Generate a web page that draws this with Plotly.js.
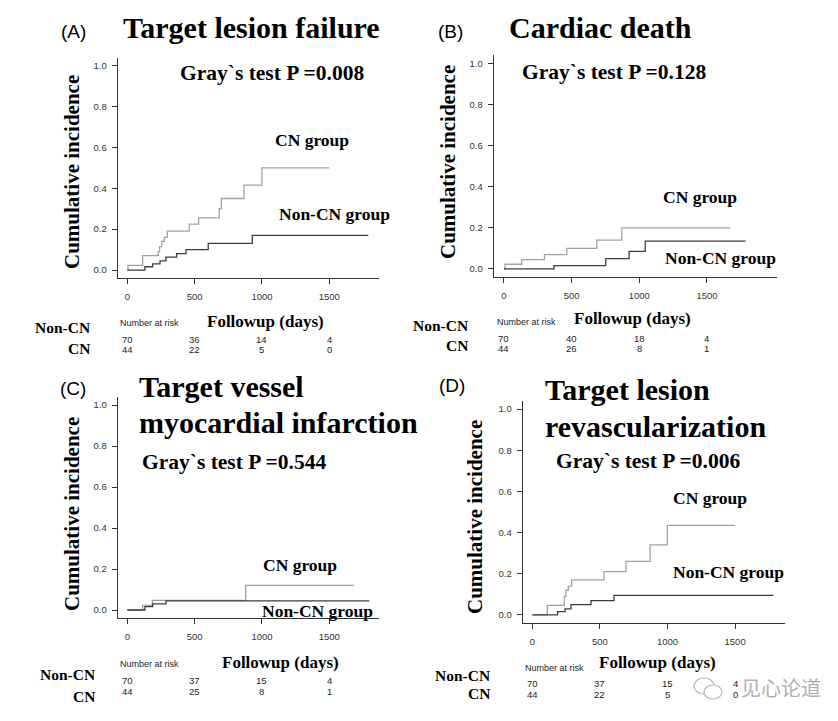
<!DOCTYPE html>
<html>
<head>
<meta charset="utf-8">
<script src="https://cdn.plot.ly/plotly-3.0.1.min.js"></script>
<style>html,body{margin:0;padding:0;background:#fff;}#chart{width:838px;height:721px;}</style>
</head>
<body>
<div id="chart"></div>
<script>
// ---------------- DATA ----------------
const panelLetters = ["(A)", "(B)", "(C)", "(D)"];
const panelTitles = [["Target lesion failure"], ["Cardiac death"], ["Target vessel", "myocardial infarction"], ["Target lesion", "revascularization"]];
const pValues = ["0.008", "0.128", "0.544", "0.006"];
const groupNames = ["Non-CN", "CN"];
const riskTimes = [0, 500, 1000, 1500];

// Panel A: Target lesion failure
const aCnDays = [0, 5, 114, 230, 240, 255, 275, 297, 460, 530, 683, 698, 866, 1000, 1500];
const aCnInc  = [0, 0.023, 0.07, 0.09, 0.115, 0.14, 0.16, 0.19, 0.225, 0.255, 0.30, 0.35, 0.415, 0.50, 0.50];
const aNonDays = [0, 131, 188, 243, 287, 366, 436, 601, 928, 1790];
const aNonInc  = [0, 0.016, 0.03, 0.045, 0.063, 0.08, 0.10, 0.13, 0.17, 0.17];
const aRiskNon = [70, 36, 14, 4];
const aRiskCn  = [44, 22, 5, 0];

// Panel B: Cardiac death
const bCnDays = [0, 8, 131, 299, 464, 686, 871, 1673];
const bCnInc  = [0, 0.023, 0.045, 0.07, 0.10, 0.14, 0.20, 0.20];
const bNonDays = [0, 370, 752, 925, 1044, 1786];
const bNonInc  = [0, 0.016, 0.05, 0.086, 0.135, 0.135];
const bRiskNon = [70, 40, 18, 4];
const bRiskCn  = [44, 26, 8, 1];

// Panel C: Target vessel myocardial infarction
const cCnDays = [0, 114, 186, 879, 1683];
const cCnInc  = [0, 0.023, 0.047, 0.12, 0.12];
const cNonDays = [0, 131, 188, 287, 1797];
const cNonInc  = [0, 0.016, 0.03, 0.045, 0.045];
const cRiskNon = [70, 37, 15, 4];
const cRiskCn  = [44, 25, 8, 1];

// Panel D: Target lesion revascularization
const dCnDays = [0, 111, 237, 249, 266, 291, 530, 693, 871, 999, 1500];
const dCnInc  = [0, 0.047, 0.09, 0.12, 0.14, 0.17, 0.21, 0.26, 0.34, 0.435, 0.435];
const dNonDays = [0, 187, 242, 286, 434, 604, 1784];
const dNonInc  = [0, 0.016, 0.03, 0.05, 0.07, 0.095, 0.095];
const dRiskNon = [70, 37, 15, 4];
const dRiskCn  = [44, 22, 5, 0];

const yTicks = [0, 0.2, 0.4, 0.6, 0.8, 1.0];
const yTickText = ["0.0", "0.2", "0.4", "0.6", "0.8", "1.0"];
const xTicks = [0, 500, 1000, 1500];

// ---------------- LAYOUT HELPERS ----------------
const W = 838, H = 721;
const px = v => v / W;
const py = v => 1 - v / H;
const SERIF = "Liberation Serif, Times New Roman, serif";
const SANS = "Liberation Sans, Arial, sans-serif";
const CN_COLOR = "#a2a2a2";
const NON_COLOR = "#3c3c3c";

// plot-area pixel boxes and ranges
const panels = [
  {x0: 117.6, x1: 379.4, y0: 57.5, y1: 278.2, xr: [-72, 1872],
   cn: [aCnDays, aCnInc], non: [aNonDays, aNonInc], risk: [aRiskNon, aRiskCn],
   letter: [73, 32], title: [{x: 251, y: 28, anchor: "center"}],
   pval: [272, 73], cnLab: [312, 140], nonLab: [334, 214], ytitle: [72, 172],
   riskLab: {right: 92, y1: 327, y2: 348}, nar: [118, 323], foll: [265, 321], nums: [339, 349]},
  {x0: 493.7, x1: 777.3, y0: 55.1, y1: 277.2, xr: [-76, 2020],
   cn: [bCnDays, bCnInc], non: [bNonDays, bNonInc], risk: [bRiskNon, bRiskCn],
   letter: [450, 32], title: [{x: 600, y: 28, anchor: "center"}],
   pval: [614, 72], cnLab: [700, 197], nonLab: [720, 258], ytitle: [448, 162],
   riskLab: {right: 470, y1: 325, y2: 345}, nar: [495, 322], foll: [632, 318], nums: [338, 348]},
  {x0: 117.6, x1: 379.4, y0: 396.8, y1: 618.2, xr: [-72, 1872],
   cn: [cCnDays, cCnInc], non: [cNonDays, cNonInc], risk: [cRiskNon, cRiskCn],
   letter: [73, 388], title: [{x: 137, y: 386, anchor: "left"}, {x: 137, y: 422, anchor: "left"}],
   pval: [234, 462], cnLab: [300, 565], nonLab: [317, 611], ytitle: [72, 514],
   riskLab: {right: 97, y1: 674, y2: 696}, nar: [118, 664], foll: [280, 662], nums: [680, 691]},
  {x0: 522.6, x1: 785.4, y0: 400.8, y1: 623.2, xr: [-72, 1872],
   cn: [dCnDays, dCnInc], non: [dNonDays, dNonInc], risk: [dRiskNon, dRiskCn],
   letter: [452, 385], title: [{x: 543, y: 389, anchor: "left"}, {x: 543, y: 427, anchor: "left"}],
   pval: [648, 461], cnLab: [710, 498], nonLab: [728, 572], ytitle: [475, 517],
   riskLab: {right: 492, y1: 675, y2: 693}, nar: [523, 668], foll: [657, 662], nums: [683, 694]}
];

const data = [];
const layout = {
  width: W, height: H,
  margin: {l: 0, r: 0, t: 0, b: 0},
  paper_bgcolor: "#ffffff", plot_bgcolor: "#ffffff",
  showlegend: false,
  annotations: [],
  shapes: []
};

function txt(x, y, text, size, family, opts) {
  return Object.assign({
    xref: "paper", yref: "paper", x: px(x), y: py(y), text: text,
    showarrow: false, xanchor: "center", yanchor: "middle",
    font: {family: family, size: size, color: "#000"}
  }, opts || {});
}

panels.forEach((p, i) => {
  const n = i === 0 ? "" : String(i + 1);
  const xa = "xaxis" + n, ya = "yaxis" + n;
  const xr = "x" + n, yr = "y" + n;
  layout[xa] = {
    domain: [px(p.x0), px(p.x1)], range: p.xr, anchor: yr,
    showline: true, linecolor: "#333", linewidth: 1,
    ticks: "outside", ticklen: 5, tickwidth: 1, tickcolor: "#333",
    tickvals: xTicks, ticklabelstandoff: 4,
    tickfont: {family: SANS, size: 9.5, color: "#333"},
    showgrid: false, zeroline: false, fixedrange: true
  };
  layout[ya] = {
    domain: [py(p.y1), py(p.y0)], range: [-0.04, 1.04], anchor: xr,
    showline: true, linecolor: "#333", linewidth: 1,
    ticks: "outside", ticklen: 5, tickwidth: 1, tickcolor: "#333",
    tickvals: yTicks, ticktext: yTickText, ticklabelstandoff: 3,
    tickfont: {family: SANS, size: 9.5, color: "#333"},
    showgrid: false, zeroline: false, fixedrange: true
  };
  data.push({x: p.cn[0], y: p.cn[1], xaxis: xr, yaxis: yr, type: "scatter", mode: "lines",
             line: {shape: "hv", color: CN_COLOR, width: 1.3}, name: "CN group", hoverinfo: "skip"});
  data.push({x: p.non[0], y: p.non[1], xaxis: xr, yaxis: yr, type: "scatter", mode: "lines",
             line: {shape: "hv", color: NON_COLOR, width: 1.3}, name: "Non-CN group", hoverinfo: "skip"});

  const A = layout.annotations;
  A.push(txt(p.letter[0], p.letter[1], panelLetters[i], 19, SANS));
  panelTitles[i].forEach((t, k) => {
    const tp = p.title[k];
    A.push(txt(tp.x, tp.y, "<b>" + t + "</b>", 30, SERIF, {xanchor: tp.anchor}));
  });
  A.push(txt(p.pval[0], p.pval[1], "<b>Gray`s test P =" + pValues[i] + "</b>", 21.5, SERIF));
  A.push(txt(p.cnLab[0], p.cnLab[1], "<b>CN group</b>", 17.5, SERIF));
  A.push(txt(p.nonLab[0], p.nonLab[1], "<b>Non-CN group</b>", 17.5, SERIF));
  A.push(txt(p.ytitle[0], p.ytitle[1], "<b>Cumulative incidence</b>", 21, SERIF, {textangle: -90}));
  A.push(txt(p.riskLab.right, p.riskLab.y1, "<b>" + groupNames[0] + "</b>", 15.5, SERIF, {xanchor: "right"}));
  A.push(txt(p.riskLab.right, p.riskLab.y2, "<b>" + groupNames[1] + "</b>", 15.5, SERIF, {xanchor: "right"}));
  A.push(txt(p.nar[0], p.nar[1], "Number at risk", 9, SANS, {xanchor: "left", font: {family: SANS, size: 9, color: "#222"}}));
  A.push(txt(p.foll[0], p.foll[1], "<b>Followup (days)</b>", 17, SERIF));
  riskTimes.forEach((t, k) => {
    A.push({xref: xr, yref: "paper", x: t, y: py(p.nums[0]), text: String(p.risk[0][k]),
            showarrow: false, xanchor: "center", yanchor: "middle",
            font: {family: SANS, size: 9.5, color: "#222"}});
    A.push({xref: xr, yref: "paper", x: t, y: py(p.nums[1]), text: String(p.risk[1][k]),
            showarrow: false, xanchor: "center", yanchor: "middle",
            font: {family: SANS, size: 9.5, color: "#222"}});
  });
});

// watermark
layout.annotations.push(txt(781, 687, "见心论道", 20, "Noto Sans CJK SC", {font: {family: "Noto Sans CJK SC", size: 20, color: "#b0b0b0"}}));
layout.shapes.push({type: "circle", xref: "paper", yref: "paper", x0: px(694), x1: px(714), y0: py(694), y1: py(678), line: {color: "#b8b8b8", width: 1.2}});
layout.shapes.push({type: "circle", xref: "paper", yref: "paper", x0: px(704), x1: px(722), y0: py(699), y1: py(685), line: {color: "#b8b8b8", width: 1.2}, fillcolor: "#ffffff"});

Plotly.newPlot("chart", data, layout, {displayModeBar: false, staticPlot: true});
</script>
</body>
</html>
